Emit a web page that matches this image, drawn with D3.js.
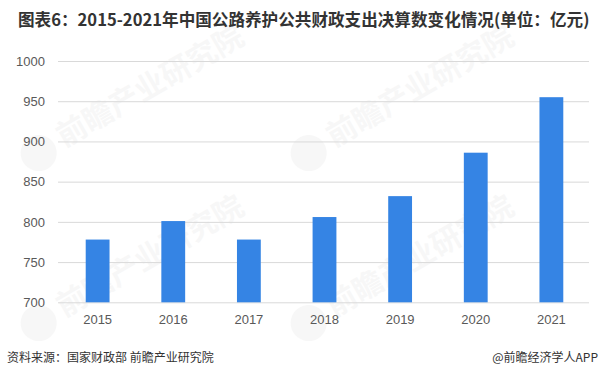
<!DOCTYPE html>
<html lang="zh">
<head>
<meta charset="UTF-8">
<script src="https://cdn.jsdelivr.net/npm/d3@7"></script>
<style>
  html, body { margin: 0; padding: 0; background: #ffffff; }
  svg { display: block; font-family: "Noto Sans CJK SC", "Noto Sans", sans-serif; }
</style>
</head>
<body>
<svg id="chart" width="602" height="377"></svg>
<script>
const years = ['2015', '2016', '2017', '2018', '2019', '2020', '2021'];
const spending = [778, 801, 778, 806, 832, 886, 955];
const yTicks = [700, 750, 800, 850, 900, 950, 1000];

const svg = d3.select('#chart');
const margin = {top: 61, right: 13, bottom: 75, left: 58};
const width = 602, height = 377;

const x = d3.scaleBand()
    .domain(years)
    .range([margin.left + 2, width - margin.right])
    .paddingInner(0.685)
    .paddingOuter(0.34);

const y = d3.scaleLinear()
    .domain([700, 1000])
    .range([302.3, margin.top]);

// faint watermarks
const marks = [[60, 150], [330, 150], [60, 320], [330, 320]];
marks.forEach(([mx, my]) => {
    const g = svg.append('g')
        .attr('transform', `translate(${mx},${my}) rotate(-30)`)
        .attr('opacity', 0.045);
    g.append('circle').attr('cx', -20).attr('cy', -8).attr('r', 18).attr('fill', '#555');
    g.append('text').attr('x', 5).attr('y', 0)
        .attr('font-size', 30).attr('font-weight', 'bold').attr('fill', '#555')
        .text('前瞻产业研究院');
});

// title
svg.append('text')
    .attr('x', 18).attr('y', 26)
    .attr('font-size', 16.6).attr('font-weight', 'bold').attr('fill', '#333')
    .text('图表6：2015-2021年中国公路养护公共财政支出决算数变化情况(单位：亿元)');

// grid + y axis
const yAxis = svg.append('g')
    .attr('transform', `translate(${margin.left},0)`)
    .call(d3.axisLeft(y).tickValues(yTicks).tickFormat(d3.format('d'))
        .tickSize(-(width - margin.right - margin.left)).tickPadding(13));
yAxis.select('.domain').remove();
yAxis.selectAll('.tick line').attr('stroke', '#d9d9d9').attr('stroke-width', 1);
yAxis.selectAll('.tick text')
    .attr('fill', '#595959').attr('font-size', 13)
    .attr('font-family', '"Liberation Sans", Arial, sans-serif');

// bars
svg.append('g').selectAll('rect')
    .data(years)
    .join('rect')
    .attr('x', d => x(d))
    .attr('width', x.bandwidth())
    .attr('y', (d, i) => y(spending[i]))
    .attr('height', (d, i) => y(700) - y(spending[i]))
    .attr('fill', '#3584e4');

// x axis
const xAxis = svg.append('g')
    .attr('transform', `translate(0,${y(700)})`)
    .call(d3.axisBottom(x).tickSize(0).tickPadding(12));
xAxis.select('.domain').remove();
xAxis.selectAll('.tick text')
    .attr('fill', '#595959').attr('font-size', 13)
    .attr('font-family', '"Liberation Sans", Arial, sans-serif');

// footer
svg.append('text')
    .attr('x', 7).attr('y', 362)
    .attr('font-size', 12).attr('fill', '#333')
    .text('资料来源：国家财政部 前瞻产业研究院');
svg.append('text')
    .attr('x', 598).attr('y', 362)
    .attr('text-anchor', 'end')
    .attr('font-size', 12).attr('fill', '#333')
    .text('@前瞻经济学人APP');
</script>
</body>
</html>
